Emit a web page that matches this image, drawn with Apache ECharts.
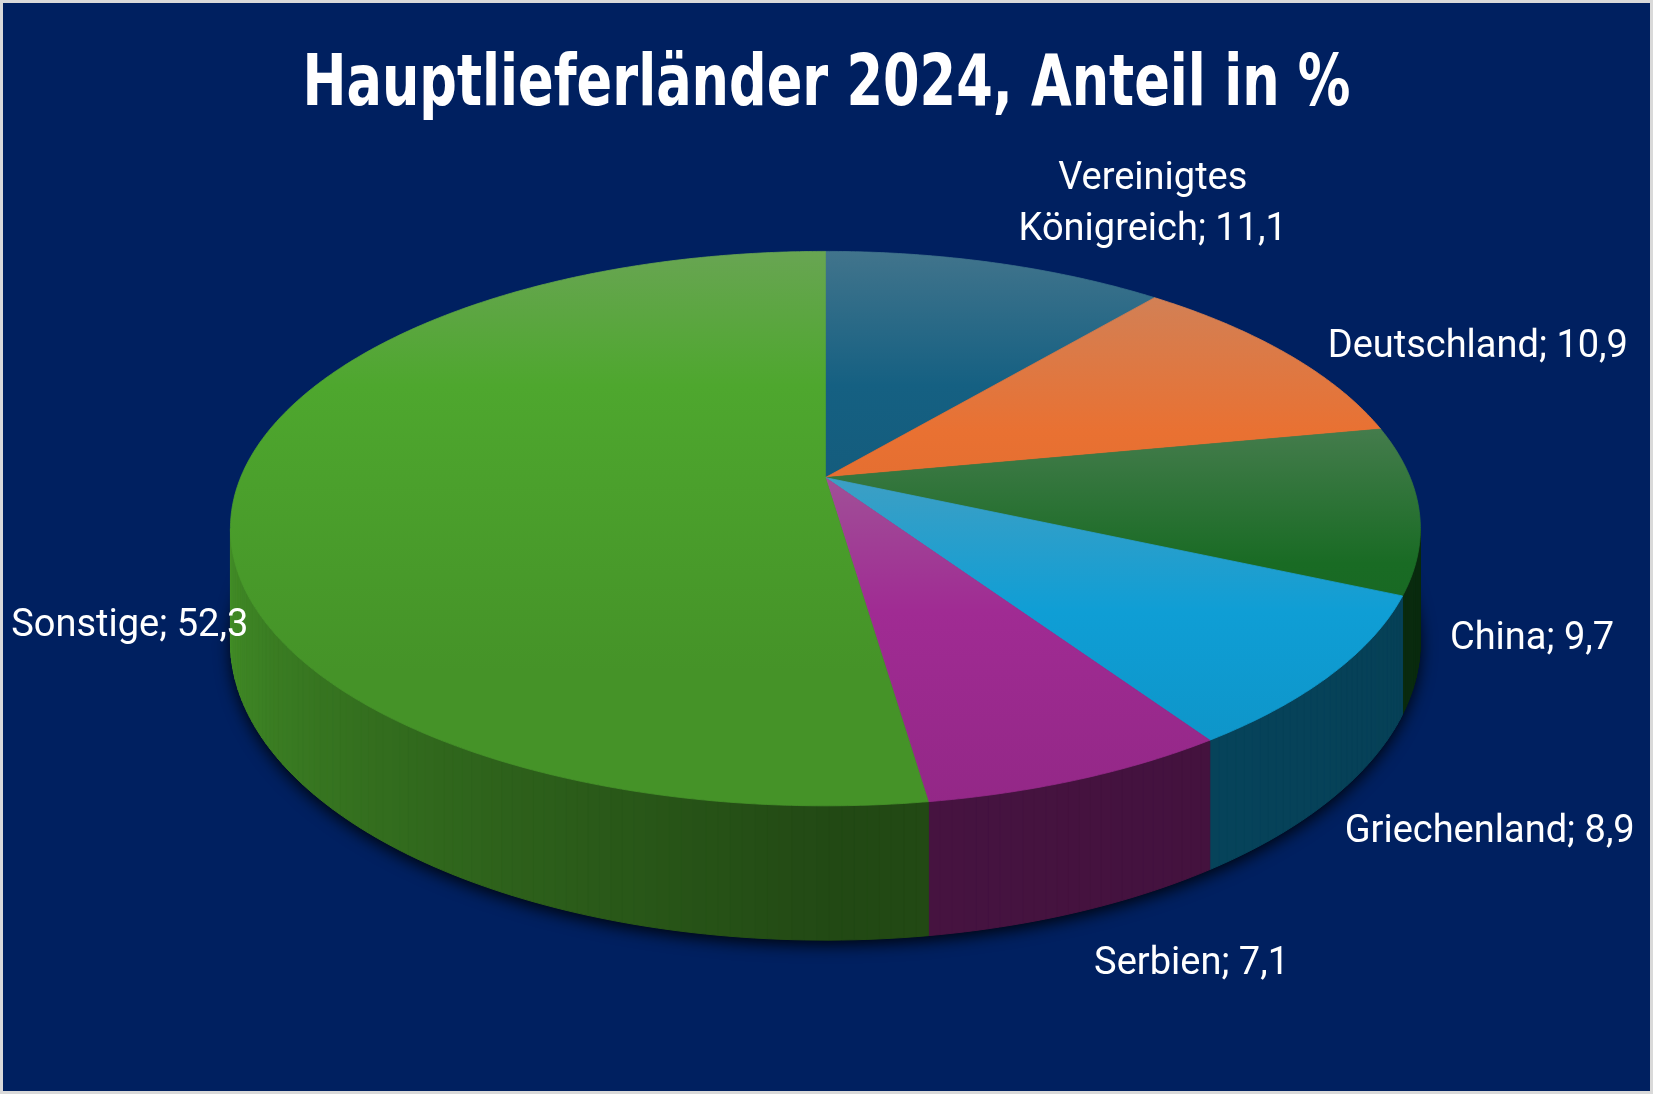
<!DOCTYPE html>
<html lang="de">
<head>
<meta charset="UTF-8">
<title>Hauptlieferländer 2024</title>
<script src="https://cdn.jsdelivr.net/npm/echarts@6/dist/echarts.min.js"></script>
<style>
  html, body { margin: 0; padding: 0; width: 100%; height: 100%; background: #d9d9d9; }
  #chart { width: 100%; height: 100%; box-sizing: border-box; border: 3px solid #d9d9d9; }
</style>
</head>
<body>
<div id="chart"></div>
<script>
// data
var titleText = 'Hauptlieferländer 2024, Anteil in %';
var categories = ['Vereinigtes\nKönigreich', 'Deutschland', 'China', 'Griechenland', 'Serbien', 'Sonstige'];
var values = [11.1, 10.9, 9.7, 8.9, 7.1, 52.3];
var colors = ['#156082', '#E97132', '#196B24', '#0F9ED5', '#A02B93', '#4EA72E'];

// label placement relative to the slice's outer edge: dx, dy, align
var labelNudge = [
  [157, -58, 'center'],
  [41, -6, 'left'],
  [31, 130, 'left'],
  [12, 159, 'left'],
  [15, 185, 'left'],
  [14, 129, 'right']
];

// perspective pie geometry (page pixels, chart is inset by the 3px border)
var OFF = 3;
var CX = 825.4 - OFF, CY = 477.6 - OFF, TILT = 180.5, RX = 584.8, PERSP = -0.184, DEPTH = 109.6;

function proj(theta, d) {
  var u = Math.sin(theta), t = -Math.cos(theta);
  var den = 1 + PERSP * t;
  return [CX + RX * u / den, (CY + TILT * t) / den + d * DEPTH / den];
}

function hexRgb(h) {
  return [parseInt(h.slice(1, 3), 16), parseInt(h.slice(3, 5), 16), parseInt(h.slice(5, 7), 16)];
}
function shade(h, k) {
  var c = hexRgb(h);
  return 'rgb(' + c.map(function (v) { return Math.round(Math.min(255, v * k)); }).join(',') + ')';
}
function mixGrey(h, k) {
  var c = hexRgb(h);
  return 'rgb(' + c.map(function (v) { return Math.round(v + (160 - v) * k); }).join(',') + ')';
}
function sideLight(theta) {
  var deg = theta * 180 / Math.PI;
  if (deg < 180) return 0.40 + 0.04 * (deg - 100) / 80;
  return Math.min(0.88, 0.44 + 0.42 * (deg - 180) / 80);
}
function fmt(v) { return v.toFixed(1).replace('.', ','); }

var seriesData = [];
var cum = 0;
for (var i = 0; i < values.length; i++) {
  seriesData.push({ name: categories[i], value: [values[i], cum] });
  cum += values[i];
}

var VIS0 = Math.acos(PERSP), VIS1 = 2 * Math.PI - Math.acos(PERSP);
var STEP = Math.PI / 360;

function renderItem(params, api) {
  var idx = params.dataIndex;
  var val = api.value(0), start = api.value(1);
  var a0 = start / 100 * 2 * Math.PI, a1 = (start + val) / 100 * 2 * Math.PI;
  var base = colors[idx];
  var children = [];
  var k, n, p;

  if (idx === 0) {
    var sh = [];
    for (k = 0; k <= 360; k++) sh.push(proj(k * Math.PI / 180, 1));
    children.push({
      type: 'polygon', z2: 0, shape: { points: sh },
      style: { fill: '#000c28', shadowBlur: 16, shadowColor: 'rgba(0,0,0,0.85)', shadowOffsetY: 5 }
    });
  }

  // side wall (front part only)
  var lo = Math.max(a0, VIS0), hi = Math.min(a1, VIS1);
  if (hi > lo) {
    n = Math.max(1, Math.ceil((hi - lo) / (Math.PI / 180)));
    for (k = 0; k < n; k++) {
      var b0 = lo + (hi - lo) * k / n, b1 = lo + (hi - lo) * (k + 1) / n;
      var col = shade(base, sideLight((b0 + b1) / 2));
      children.push({
        type: 'polygon', z2: 1,
        shape: { points: [proj(b0, 0), proj(b1, 0), proj(b1, 1), proj(b0, 1)] },
        style: { fill: col, stroke: col, lineWidth: 1 }
      });
    }
  }

  // top face
  var pts = [[CX, CY]];
  n = Math.max(2, Math.ceil((a1 - a0) / STEP));
  var minY = CY;
  for (k = 0; k <= n; k++) {
    p = proj(a0 + (a1 - a0) * k / n, 0);
    pts.push(p);
    if (p[1] < minY) minY = p[1];
  }
  var grad = new echarts.graphic.LinearGradient(0, minY, 0, minY + 420, [
    { offset: 0, color: mixGrey(base, 0.32) },
    { offset: 0.32, color: base },
    { offset: 1, color: shade(base, 0.88) }
  ], true);
  children.push({
    type: 'polygon', z2: 2, shape: { points: pts },
    style: { fill: grad, stroke: grad, lineWidth: 0.8 }
  });

  // label
  var mid = (a0 + a1) / 2;
  var anchor = proj(mid, 0);
  var nd = labelNudge[idx];
  children.push({
    type: 'text', z2: 3,
    style: {
      text: categories[idx] + '; ' + fmt(val),
      x: anchor[0] + nd[0], y: anchor[1] + nd[1],
      align: nd[2], verticalAlign: 'middle',
      fill: '#ffffff', fontSize: 38, fontFamily: 'Roboto', lineHeight: 51
    }
  });

  return { type: 'group', children: children };
}

// condensed heavy title: squeeze a bold face to the reference width
var titleFont = 'bold 71px "DejaVu Sans"';
var ctx = document.createElement('canvas').getContext('2d');
ctx.font = titleFont;
var titleScale = 1048 / ctx.measureText(titleText).width;

var chart = echarts.init(document.getElementById('chart'), null, { renderer: 'canvas' });
chart.setOption({
  animation: false,
  backgroundColor: '#002060',
  graphic: [{
    type: 'text',
    x: 826.5 - OFF,
    y: 87 - OFF,
    scaleX: titleScale,
    style: {
      text: titleText,
      font: titleFont,
      fill: '#ffffff',
      align: 'center',
      verticalAlign: 'middle'
    }
  }],
  series: [{
    type: 'custom',
    coordinateSystem: 'none',
    renderItem: renderItem,
    data: seriesData
  }]
});
</script>
</body>
</html>
